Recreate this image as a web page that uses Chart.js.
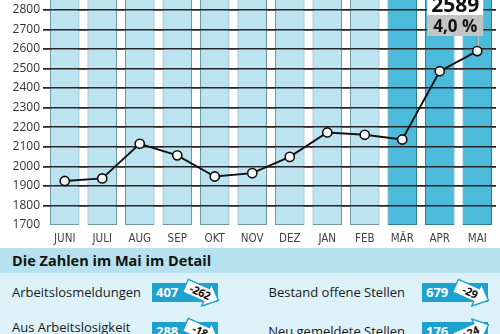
<!DOCTYPE html>
<html lang="de">
<head>
<meta charset="utf-8">
<title>Arbeitslose im Mai</title>
<script src="https://cdn.jsdelivr.net/npm/chart.js@4.4.1/dist/chart.umd.min.js"></script>
<style>
  html, body { margin: 0; padding: 0; background: #fff; }
  #wrap { position: relative; width: 500px; height: 334px; overflow: hidden; font-family: 'Open Sans', 'Noto Sans', sans-serif; }
  #chart { position: absolute; left: 0; top: 0; }
  #band { position: absolute; left: 0; top: 248px; width: 500px; height: 25px; background: #b6e1ee; }
  #band h2 { margin: 0; position: absolute; left: 12px; top: 3px; font-size: 14.5px; font-weight: 700; color: #111; }
  #details { position: absolute; left: 0; top: 273px; width: 500px; height: 61px; background: #dcf1f8; }
  .lbl { position: absolute; font-size: 13px; line-height: 17px; color: #1a1a1a; white-space: nowrap; }
  .lbl.right { text-align: right; }
  .num { position: absolute; width: 66px; height: 19px; background: #1ba2cf; color: #fff; font-weight: 700; font-size: 13px; line-height: 19px; box-sizing: border-box; padding-left: 4px; }
  .arrow { position: absolute; width: 38px; height: 26px; }
  .arrow svg { position: absolute; left: 0; top: 0; }
  .arrow span { position: absolute; left: 1px; top: 6px; width: 32px; text-align: center; font-size: 11px; font-weight: 700; color: #111; line-height: 14px; letter-spacing: -0.3px; }
</style>
</head>
<body>
<div id="wrap">
  <canvas id="chart" width="500" height="248"></canvas>
  <div id="band"><h2>Die Zahlen im Mai im Detail</h2></div>
  <div id="details"></div>
</div>
<script>
// Monthly unemployment figures (persons)
const months = ['JUNI', 'JULI', 'AUG', 'SEP', 'OKT', 'NOV', 'DEZ', 'JAN', 'FEB', 'MÄR', 'APR', 'MAI'];
const unemployed = [1925, 1938, 2115, 2056, 1948, 1965, 2048, 2173, 2161, 2137, 2486, 2589];
const highlightMonths = ['MÄR', 'APR', 'MAI'];
const currentRate = '4,0 %';

// Value axis
const axisMin = 1700;
const axisTickMax = 2800;
const axisTop = 2850;
const axisStep = 100;

// Detail figures for May
const detailLabels = ['Arbeitslosmeldungen', 'Aus Arbeitslosigkeit\nabgemeldet', 'Bestand offene Stellen', 'Neu gemeldete Stellen'];
const detailValues = [407, 288, 679, 176];
const detailChanges = ['-262', '-18', '-29', '+24'];

const LIGHT = '#bce4f0', LIGHT_EDGE = '#6e97a4';
const DARK = '#4cbbdb', DARK_EDGE = '#2f7e96';
const isHot = months.map(m => highlightMonths.includes(m));

// Grid lines are redrawn on top of the columns but beneath the line
const gridOverColumns = {
  id: 'gridOverColumns',
  afterDatasetDraw(chart, args) {
    if (args.meta.type === 'bar') chart.scales.y.drawGrid(chart.chartArea);
  }
};

// Value/rate badge above the latest point
const latestBadge = {
  id: 'latestBadge',
  afterDraw(chart) {
    const meta = chart.getDatasetMeta(1);
    const pt = meta.data[meta.data.length - 1];
    const ctx = chart.ctx;
    const top = chart.chartArea.top;
    const x0 = pt.x - 50, w = 56;
    ctx.save();
    ctx.strokeStyle = '#b9b9b9';
    ctx.lineWidth = 1;
    ctx.beginPath();
    ctx.moveTo(Math.round(pt.x) + 1.5, top + 36);
    ctx.lineTo(Math.round(pt.x) + 1.5, pt.y - 5);
    ctx.stroke();
    ctx.fillStyle = '#ffffff';
    ctx.fillRect(x0, top - 4, w, 19);
    ctx.fillStyle = '#c4c4c4';
    ctx.fillRect(x0, top + 15, w, 21);
    ctx.fillStyle = '#111';
    ctx.textAlign = 'center';
    ctx.textBaseline = 'alphabetic';
    ctx.font = "700 21px 'Open Sans', 'Noto Sans', sans-serif";
    ctx.fillText(String(unemployed[unemployed.length - 1]), x0 + w / 2, top + 12);
    ctx.font = "700 17px 'Open Sans', 'Noto Sans', sans-serif";
    ctx.fillText(currentRate, x0 + w / 2, top + 32);
    ctx.restore();
  }
};

new Chart(document.getElementById('chart'), {
  type: 'bar',
  data: {
    labels: months,
    datasets: [
      {
        type: 'bar',
        data: months.map(() => [axisMin, axisTop]),
        backgroundColor: isHot.map(h => h ? DARK : LIGHT),
        borderColor: isHot.map(h => h ? DARK_EDGE : LIGHT_EDGE),
        borderWidth: 1,
        borderSkipped: 'top',
        categoryPercentage: 1,
        barPercentage: 0.787,
        order: 2
      },
      {
        type: 'line',
        data: unemployed,
        borderColor: '#111',
        borderWidth: 1.9,
        pointRadius: 4.6,
        pointBorderWidth: 1.6,
        pointBackgroundColor: '#fff',
        pointBorderColor: '#111',
        tension: 0,
        order: 1
      }
    ]
  },
  options: {
    responsive: false,
    animation: false,
    layout: { autoPadding: false, padding: { left: 0, right: 4, top: 0, bottom: 0 } },
    plugins: { legend: { display: false }, tooltip: { enabled: false } },
    scales: {
      x: {
        grid: { display: false, drawTicks: false },
        border: { display: false },
        ticks: {
          color: '#444',
          padding: 7,
          font: { family: "'Liberation Sans Narrow', 'DejaVu Sans Condensed', sans-serif", size: 11.5 }
        },
        afterFit: s => { s.height = 23; }
      },
      y: {
        min: axisMin,
        max: axisTop,
        afterBuildTicks: s => {
          const ticks = [];
          for (let v = axisMin; v <= axisTickMax; v += axisStep) ticks.push({ value: v });
          s.ticks = ticks;
        },
        ticks: {
          stepSize: axisStep,
          color: '#333',
          padding: 3,
          font: { family: "'Open Sans', 'Noto Sans', sans-serif", size: 12 },
          callback: v => String(v)
        },
        grid: {
          color: c => (c.tick && c.tick.value === axisMin) ? 'rgba(0,0,0,0)' : '#262626',
          lineWidth: 1.5,
          tickLength: 3
        },
        border: { display: false },
        afterFit: s => { s.width = 46; s.paddingTop = 0; s.paddingBottom = 0; }
      }
    }
  },
  plugins: [gridOverColumns, latestBadge]
});

// Detail panel
const details = document.getElementById('details');
const rowTop = [10, 49];      // box tops inside the panel
const colLayout = [
  { labelLeft: 12, right: false, boxLeft: 152 },
  { labelRight: 95, right: true, boxLeft: 422 }
];
detailLabels.forEach((text, i) => {
  const col = colLayout[Math.floor(i / 2)];
  const boxTop = rowTop[i % 2];
  const lines = text.split('\n');
  const lbl = document.createElement('div');
  lbl.className = 'lbl' + (col.right ? ' right' : '');
  lbl.innerHTML = lines.join('<br>');
  lbl.style.top = (boxTop + 1 - (lines.length > 1 ? 4 : 0)) + 'px';
  if (col.right) lbl.style.right = col.labelRight + 'px'; else lbl.style.left = col.labelLeft + 'px';
  details.appendChild(lbl);

  const num = document.createElement('div');
  num.className = 'num';
  num.textContent = detailValues[i];
  num.style.left = col.boxLeft + 'px';
  num.style.top = boxTop + 'px';
  details.appendChild(num);

  const up = detailChanges[i].startsWith('+');
  const arrow = document.createElement('div');
  arrow.className = 'arrow';
  arrow.style.left = (col.boxLeft + 31) + 'px';
  arrow.style.top = (boxTop - 3) + 'px';
  arrow.style.transform = 'rotate(' + (up ? -24 : 24) + 'deg)';
  arrow.innerHTML =
    '<svg width="38" height="26" viewBox="0 0 38 26">' +
    '<polygon points="1,6 24,6 24,1 37,13 24,25 24,20 1,20" fill="#fff" stroke="#1ba2cf" stroke-width="1.4" stroke-linejoin="miter"/>' +
    '</svg><span>' + detailChanges[i] + '</span>';
  details.appendChild(arrow);
});
</script>
</body>
</html>
